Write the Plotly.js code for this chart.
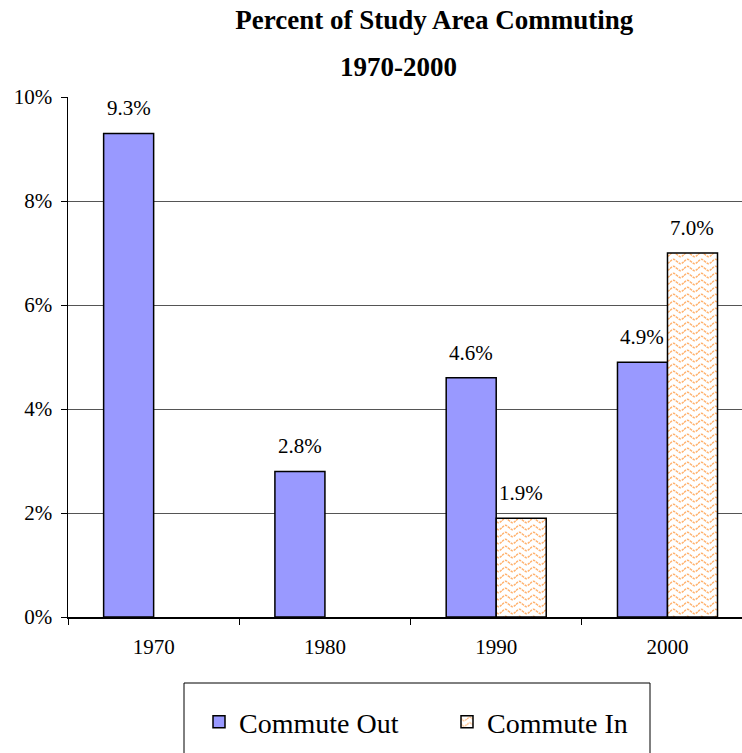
<!DOCTYPE html>
<html>
<head>
<meta charset="utf-8">
<script src="https://cdn.plot.ly/plotly-3.0.1.min.js"></script>
<style>html,body{margin:0;padding:0;background:#fff;overflow:hidden}</style>
</head>
<body>
<div id="chart" style="width:742px;height:753px"></div>
<script>
var years = ['1970', '1980', '1990', '2000'];
var commuteOut = [0.093, 0.028, 0.046, 0.049];
var commuteIn = [null, null, 0.019, 0.070];
var seriesNames = ['Commute Out', 'Commute In'];
var yTickVals = [0, 0.02, 0.04, 0.06, 0.08, 0.10];
var titleLine1 = 'Percent of Study Area Commuting';
var titleLine2 = '1970-2000';

var serif = 'Liberation Serif, Times New Roman, serif';

var traces = [
  {
    type: 'bar', name: seriesNames[0], x: years, y: commuteOut,
    marker: {color: '#9999FF', line: {color: '#000', width: 1.5}},
    hoverinfo: 'none'
  },
  {
    type: 'bar', name: seriesNames[1], x: years, y: commuteIn,
    marker: {color: '#FFFFFF', line: {color: '#000', width: 1.5},
      pattern: {shape: '-', fgcolor: '#FFC896', bgcolor: '#FFFFFF', size: 7, solidity: 0.3}},
    hoverinfo: 'none'
  }
];

var annotations = [];
function addLabels(vals, shift) {
  vals.forEach(function (v, i) {
    if (v === null) return;
    annotations.push({
      x: i, y: v, xref: 'x', yref: 'y',
      text: (v * 100).toFixed(1) + '%', showarrow: false,
      xshift: shift, yshift: 25, yanchor: 'middle', xanchor: 'center',
      font: {family: serif, size: 21, color: '#000'}
    });
  });
}
addLabels(commuteOut, -25);
addLabels(commuteIn, 25);

annotations.push({
  xref: 'paper', yref: 'paper', x: 0.49, y: (617 - 67) / 520,
  text: '<b>' + titleLine2 + '</b>', showarrow: false,
  xanchor: 'center', yanchor: 'middle',
  font: {family: serif, size: 27, color: '#000'}
});

var layout = {
  width: 742, height: 753,
  margin: {l: 68, r: 0, t: 97, b: 136},
  paper_bgcolor: '#fff', plot_bgcolor: '#fff',
  title: {
    text: '<b>' + titleLine1 + '</b>',
    font: {family: serif, size: 27, color: '#000'},
    x: 0.5435, xanchor: 'center', xref: 'paper',
    y: 1 - 19.5 / 753, yanchor: 'middle', yref: 'container'
  },
  barmode: 'group', bargap: 0.416, bargroupgap: 0,
  showlegend: true,
  legend: {
    orientation: 'h', x: (199 - 68) / 674, xanchor: 'left',
    y: (617 - 722) / 520, yanchor: 'middle',
    font: {family: serif, size: 28, color: '#000'},
    bgcolor: 'rgba(0,0,0,0)', borderwidth: 0,
    entrywidth: 203, entrywidthmode: 'pixels'
  },
  xaxis: {
    type: 'category', range: [-0.5, 3.435],
    tickson: 'boundaries', ticks: 'outside', ticklen: 6, tickcolor: '#000', tickwidth: 1,
    showline: true, linecolor: '#000', linewidth: 2,
    showgrid: false, zeroline: false,
    tickfont: {family: serif, size: 21, color: '#000'},
    ticklabelstandoff: 10,
    fixedrange: true
  },
  yaxis: {
    range: [0, 0.10], tickvals: yTickVals, tickformat: '.0%',
    ticks: 'outside', ticklen: 6, tickcolor: '#000', tickwidth: 1,
    showline: true, linecolor: '#000', linewidth: 1.5,
    showgrid: true, gridcolor: '#555', gridwidth: 1, zeroline: false,
    tickfont: {family: serif, size: 21, color: '#000'},
    ticklabelstandoff: 4,
    fixedrange: true
  },
  annotations: annotations,
  shapes: [{
    type: 'rect', xref: 'paper', yref: 'paper',
    x0: (184 - 68) / 674, x1: (650 - 68) / 674,
    y0: (617 - 770) / 520, y1: (617 - 683) / 520,
    line: {color: '#000', width: 1}, fillcolor: 'rgba(0,0,0,0)'
  }]
};

Plotly.newPlot('chart', traces, layout, {displayModeBar: false, staticPlot: true}).then(function () {
  var pats = document.querySelectorAll('pattern');
  pats.forEach(function (p) {
    p.setAttribute('width', 14);
    p.setAttribute('height', 7);
    var rects = p.querySelectorAll('rect');
    rects.forEach(function (r) { r.setAttribute('width', 14); r.setAttribute('height', 7); });
    var paths = p.querySelectorAll('path');
    paths.forEach(function (path) {
      path.setAttribute('d', 'M0,3.5 C3.5,0.5 3.5,0.5 7,3.5 C10.5,6.5 10.5,6.5 14,3.5');
      path.setAttribute('style', 'stroke:#FFB26E;stroke-width:1.5;fill:none;stroke-dasharray:2.5,1;opacity:1');
    });
  });
});
</script>
</body>
</html>
